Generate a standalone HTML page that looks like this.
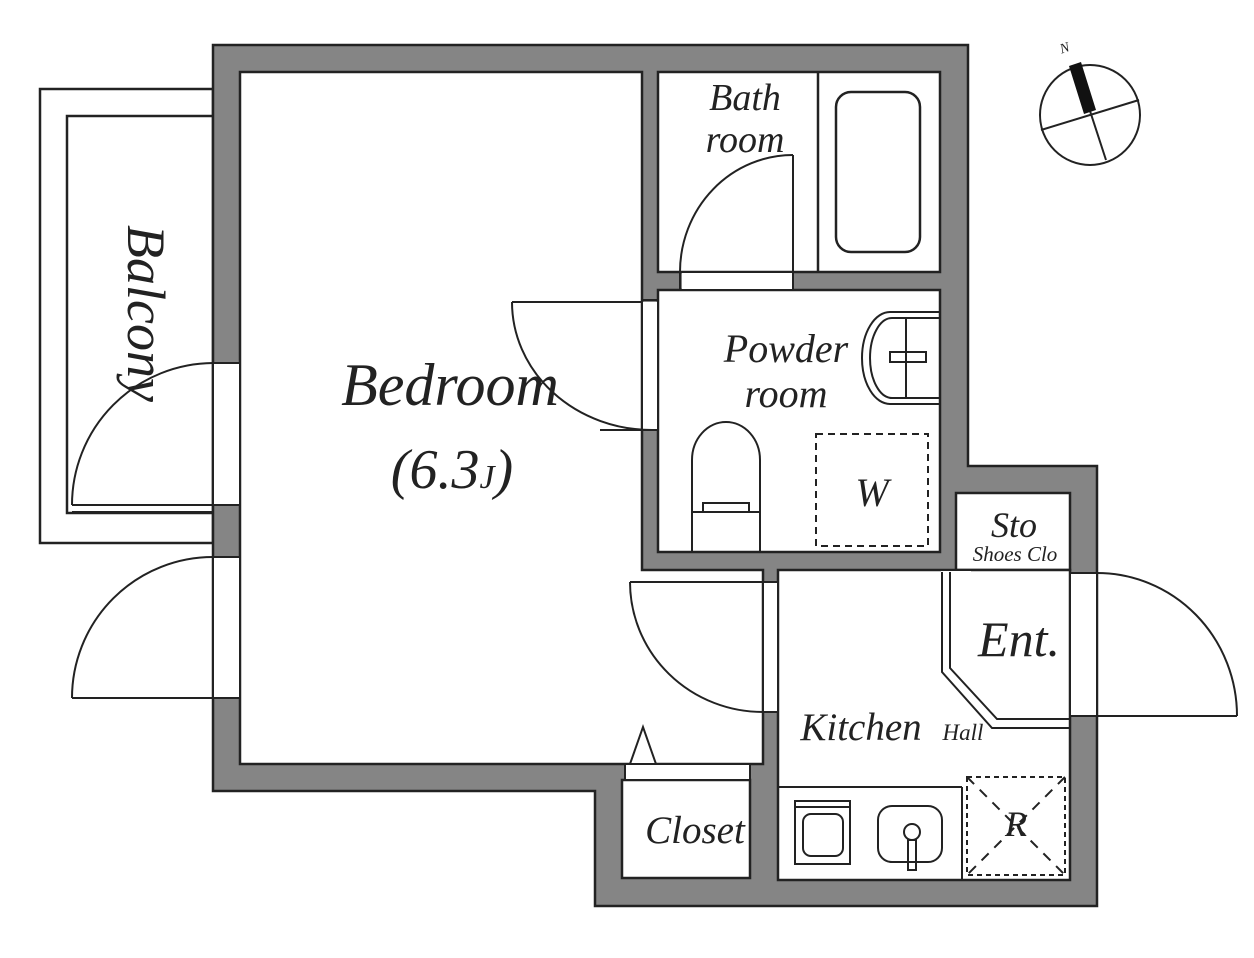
<!DOCTYPE html>
<html><head><meta charset="utf-8"><style>
html,body{margin:0;padding:0;background:#fff;}
svg{display:block}
text{font-family:"Liberation Serif",serif;font-style:italic;fill:#222}
</style></head><body>
<svg width="1254" height="958" viewBox="0 0 1254 958" xmlns="http://www.w3.org/2000/svg">
<g stroke="#222" stroke-width="2.5" fill="none">
<rect x="40" y="89" width="173" height="454" fill="#fff"/>
<rect x="67" y="116" width="146" height="397" fill="#fff"/>
<polygon points="213,45 968,45 968,466 1097,466 1097,906 595,906 595,791 213,791" fill="#858585"/>
<polygon points="240,72 642,72 642,570 763,570 763,764 240,764" fill="#fff"/>
<rect x="658" y="72" width="282" height="200" fill="#fff"/>
<line x1="818" y1="72" x2="818" y2="272"/>
<rect x="836" y="92" width="84" height="160" rx="15"/>
<rect x="658" y="290" width="282" height="262" fill="#fff"/>
<rect x="956" y="493" width="114" height="77" fill="#fff"/>
<rect x="778" y="570" width="292" height="310" fill="#fff"/>
<rect x="622" y="780" width="128" height="98" fill="#fff"/>
</g>
<g stroke="none" fill="#fff">
<rect x="214" y="364" width="25" height="141"/>
<rect x="214" y="558" width="25" height="140"/>
<rect x="682" y="273" width="110" height="16"/>
<rect x="643" y="302" width="14" height="128"/>
<rect x="764" y="583" width="13" height="130"/>
<rect x="1071" y="574" width="25" height="142"/>
<rect x="626" y="765" width="124" height="14"/>
<rect x="941" y="571" width="30" height="10"/>
</g>
<g stroke="#222" stroke-width="2" fill="none">
<line x1="213" y1="363" x2="240" y2="363"/><line x1="213" y1="505" x2="240" y2="505"/>
<line x1="213" y1="557" x2="240" y2="557"/><line x1="213" y1="698" x2="240" y2="698"/>
<line x1="213" y1="363" x2="213" y2="505"/><line x1="213" y1="557" x2="213" y2="698"/>
<line x1="680" y1="272" x2="680" y2="290"/><line x1="793" y1="272" x2="793" y2="290"/>
<line x1="642" y1="300" x2="658" y2="300"/><line x1="642" y1="430" x2="658" y2="430"/>
<line x1="763" y1="582" x2="778" y2="582"/><line x1="763" y1="712" x2="778" y2="712"/>
<line x1="1070" y1="573" x2="1097" y2="573"/><line x1="1070" y1="716" x2="1097" y2="716"/>
<line x1="625" y1="764" x2="625" y2="780"/><line x1="750" y1="764" x2="750" y2="780"/>
<line x1="72" y1="505" x2="213" y2="505"/>
<path d="M213,363 A142,142 0 0 0 72,505"/>
<line x1="72" y1="698" x2="213" y2="698"/>
<path d="M213,557 A141,141 0 0 0 72,698"/>
<line x1="72" y1="512" x2="213" y2="512"/>
<line x1="793" y1="155" x2="793" y2="272"/>
<path d="M793,155 A113,117 0 0 0 680,272"/>
<line x1="512" y1="302" x2="642" y2="302"/>
<path d="M512,302 A140,128 0 0 0 652,430"/>
<line x1="600" y1="430" x2="652" y2="430"/>
<line x1="630" y1="582" x2="763" y2="582"/>
<path d="M630,582 A133,130 0 0 0 763,712"/>
<line x1="1097" y1="716" x2="1237" y2="716"/>
<path d="M1097,573 A140,143 0 0 1 1237,716"/>
<polygon points="630,764 656,764 643,727" fill="#fff"/>
<path d="M942,572 L942,672 L992,728 L1070,728"/>
<path d="M950,572 L950,668 L997,719 L1070,719"/>
<path d="M940,312 L890,312 A28,46 0 0 0 890,404 L940,404"/>
<path d="M940,318 L892,318 A22,40 0 0 0 892,398 L940,398"/>
<line x1="906" y1="318" x2="906" y2="398"/>
<rect x="890" y="352" width="36" height="10"/>
<path d="M692,552 L692,460 A34,38 0 0 1 760,460 L760,552"/>
<line x1="692" y1="512" x2="760" y2="512"/>
<rect x="703" y="503" width="46" height="9"/>
<rect x="816" y="434" width="112" height="112" stroke-dasharray="7,5"/>
<line x1="778" y1="787" x2="962" y2="787"/>
<line x1="962" y1="787" x2="962" y2="880"/>
<rect x="795" y="801" width="55" height="63"/>
<line x1="795" y1="807" x2="850" y2="807"/>
<rect x="803" y="814" width="40" height="42" rx="8"/>
<rect x="878" y="806" width="64" height="56" rx="14"/>
<circle cx="912" cy="832" r="8"/>
<rect x="908" y="840" width="8" height="30"/>
<rect x="967" y="777" width="98" height="98" stroke-dasharray="5,4"/>
<line x1="967" y1="777" x2="1065" y2="875" stroke-dasharray="10,8"/>
<line x1="1065" y1="777" x2="967" y2="875" stroke-dasharray="10,8"/>
<circle cx="1090" cy="115" r="50" fill="#fff"/>
<line x1="1041" y1="130" x2="1139" y2="100"/>
<line x1="1076" y1="68" x2="1106" y2="160"/>
</g>
<polygon points="1069,66 1081,62 1096,110 1084,114" fill="#111"/>
<text x="1060" y="52" font-size="14" font-style="normal" transform="rotate(-18 1066 48)">N</text>
<text x="450" y="405" font-size="60" text-anchor="middle">Bedroom</text>
<text x="452" y="488" font-size="56" text-anchor="middle">(6.3<tspan font-size="34">J</tspan>)</text>
<text x="745" y="110" font-size="38" text-anchor="middle">Bath</text>
<text x="745" y="152" font-size="38" text-anchor="middle">room</text>
<text x="786" y="362" font-size="40" text-anchor="middle">Powder</text>
<text x="786" y="407" font-size="40" text-anchor="middle">room</text>
<text x="872" y="506" font-size="40" text-anchor="middle">W</text>
<text x="1014" y="537" font-size="36" text-anchor="middle">Sto</text>
<text x="1015" y="561" font-size="21" text-anchor="middle">Shoes Clo</text>
<text x="1019" y="656" font-size="50" text-anchor="middle">Ent.</text>
<text x="861" y="740" font-size="39" text-anchor="middle">Kitchen</text>
<text x="963" y="740" font-size="23" text-anchor="middle">Hall</text>
<text x="695" y="843" font-size="39" text-anchor="middle">Closet</text>
<text x="1016" y="836" font-size="36" text-anchor="middle">R</text>
<text x="0" y="0" font-size="54" transform="translate(128,225) rotate(90)">Balcony</text>
</svg>
</body></html>
